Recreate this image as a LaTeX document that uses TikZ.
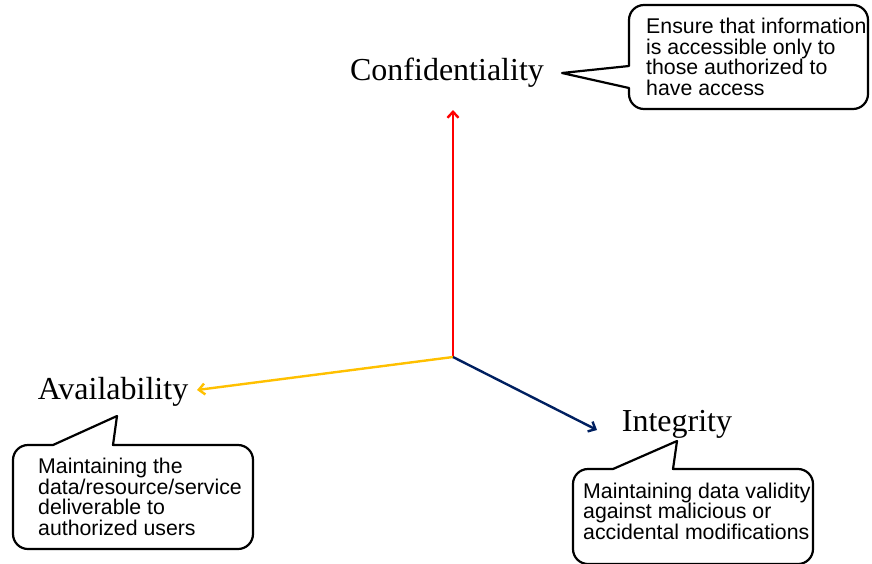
\documentclass[tikz,border=0pt]{standalone}
\usepackage{fontspec}
\setmainfont{Liberation Serif}
\newfontfamily\notefont{Liberation Sans}
\usetikzlibrary{arrows.meta}
\definecolor{availgold}{RGB}{255,192,0}
\definecolor{integnavy}{RGB}{0,32,96}
\tikzset{
	term/.style={font=\fontsize{32}{38}\selectfont, inner sep=0pt},
	note/.style={font=\notefont\fontsize{21.3}{20.5}\selectfont, align=left,
		inner sep=0pt, anchor=west},
	balloon/.style={draw=black, line width=2.2pt, line join=round}
}
\begin{document}
\begin{tikzpicture}[x=1pt, y=-1pt, >={Straight Barb[length=6pt,width=11pt]}]
			\useasboundingbox (0,0) rectangle (872,563);
			\node[term] (conf) at (447,73) {Confidentiality};
			\node[term] (avail) at (113,392) {Availability};
			\node[term] (integ) at (677,424) {Integrity};
			% the three axes
			\coordinate (o) at (453,357);
			\coordinate (confEnd) at (453,110);
			\coordinate (availEnd) at (197,390);
			\coordinate (integEnd) at (597,430);
			\foreach \tip/\col in {confEnd/red, availEnd/availgold, integEnd/integnavy}
				{
					\draw[->, \col, line width=2.4pt] (o) -- (\tip);
				}
			% callouts
			\draw[balloon] (562,73) -- (629,88) [rounded corners=15pt] -- (629,109)
				-- (868,109) -- (868,5) -- (629,5) [sharp corners] -- (629,66) -- cycle;
			\draw[balloon] (117,416) -- (113,445) [rounded corners=15pt] -- (253,445)
				-- (253,549) -- (13,549) -- (13,445) [sharp corners] -- (53,445) -- cycle;
			\draw[balloon] (677,441) -- (673,469) [rounded corners=15pt] -- (813,469)
				-- (813,564) -- (573,564) -- (573,469) [sharp corners] -- (613,469) -- cycle;
			\node[note] (confNote) at (646,57) {Ensure that information\\is accessible only to\\those authorized to\\have access};
			\node[note] (availNote) at (38,497) {Maintaining the\\data/resource/service\\deliverable to\\authorized users};
			\node[note] (integNote) at (583,511) {Maintaining data validity\\against malicious or\\accidental modifications};
		\end{tikzpicture}
\end{document}
